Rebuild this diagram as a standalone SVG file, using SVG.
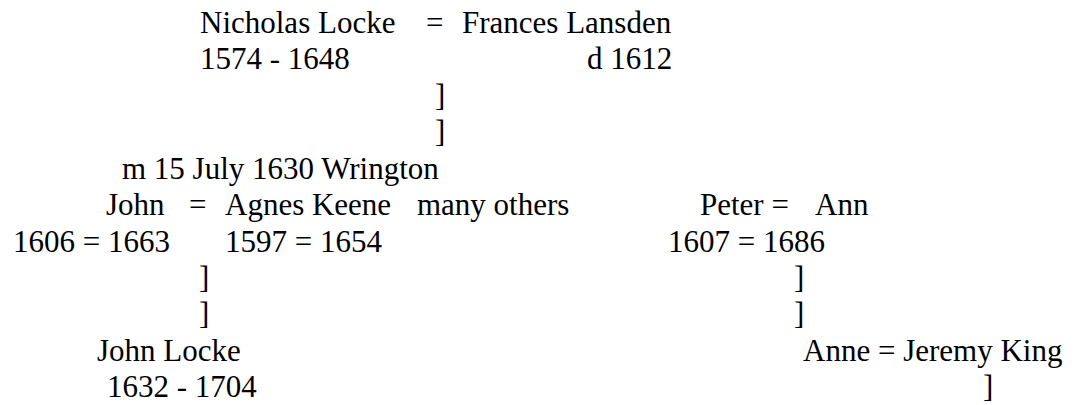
<svg xmlns="http://www.w3.org/2000/svg" width="1074" height="405" viewBox="0 0 1074 405">
<style>
text{font-family:"Liberation Serif","Times New Roman",serif;font-size:31px;fill:#000}
</style>
<rect width="1074" height="405" fill="#fff"/>
<g id="nicholas"><text x="200" y="33">Nicholas Locke</text><text x="200" y="69">1574 - 1648</text></g>
<g id="marriage1"><text x="426" y="33">=</text></g>
<g id="frances"><text x="462" y="33">Frances Lansden</text><text x="587" y="69">d 1612</text></g>
<g id="connectors">
<text x="435" y="106">]</text><text x="435" y="142">]</text>
<text x="199" y="288">]</text><text x="199" y="324">]</text>
<text x="794" y="288">]</text><text x="794" y="324">]</text>
<text x="983" y="397">]</text>
</g>
<g id="wedding"><text x="122" y="179">m 15 July 1630 Wrington</text></g>
<g id="john"><text x="106" y="215">John</text><text x="13" y="252">1606 = 1663</text></g>
<g id="marriage2"><text x="189" y="215">=</text></g>
<g id="agnes"><text x="225" y="215">Agnes Keene</text><text x="225" y="252">1597 = 1654</text></g>
<g id="others"><text x="417" y="215">many others</text></g>
<g id="peter"><text x="700" y="215">Peter =</text><text x="815" y="215">Ann</text><text x="668" y="252">1607 = 1686</text></g>
<g id="johnlocke"><text x="97" y="361">John Locke</text><text x="107" y="397">1632 - 1704</text></g>
<g id="anne"><text x="803" y="361">Anne = Jeremy King</text></g>
</svg>
